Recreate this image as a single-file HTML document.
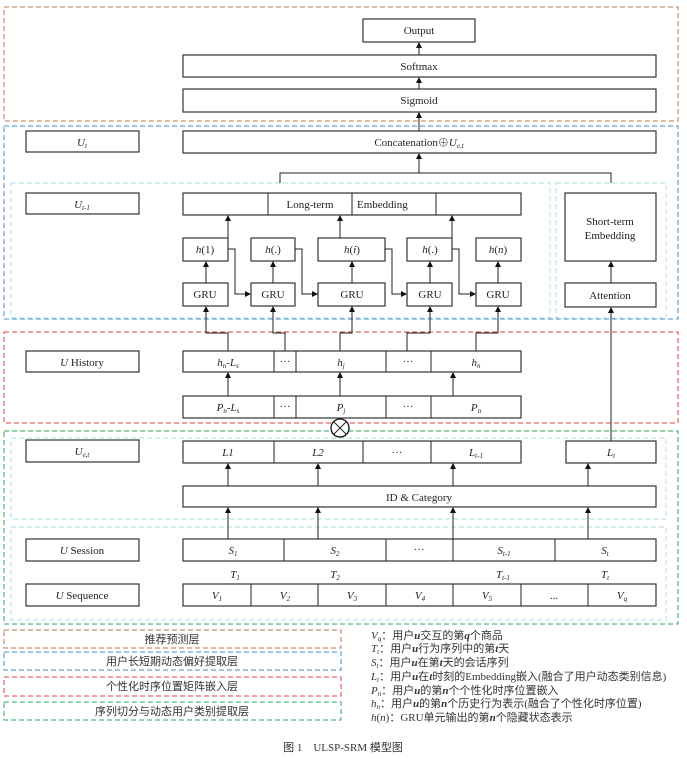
<!DOCTYPE html>
<html><head><meta charset="utf-8"><style>
html,body{margin:0;padding:0;background:#fff;}
svg{display:block;}
text{font-family:"Liberation Serif","Noto Serif CJK SC",serif;font-size:11px;fill:#222;}
.b{fill:#fff;stroke:#333;stroke-width:1.2;}
.l{stroke:#222;stroke-width:1;fill:none;}
.cn{font-family:"Liberation Serif","Noto Sans CJK SC",serif;font-size:11px;fill:#333;}
</style></head><body>
<svg width="687" height="759" viewBox="0 0 687 759" xmlns="http://www.w3.org/2000/svg">
<defs><marker id="a" markerWidth="6" markerHeight="6" refX="5" refY="3" orient="auto" markerUnits="userSpaceOnUse"><path d="M0,0 L6,3 L0,6 z" fill="#111"/></marker></defs>
<!-- group boxes -->
<rect x="4" y="7" width="674" height="114" fill="none" stroke="#b87a48" stroke-width="1" stroke-dasharray="5,3"/>
<rect x="4" y="126" width="674" height="193" fill="none" stroke="#3d8fd0" stroke-width="1" stroke-dasharray="5,3"/>
<rect x="11" y="183" width="539" height="135" fill="none" stroke="#a8dde6" stroke-width="1" stroke-dasharray="5,3"/>
<rect x="556" y="183" width="110" height="135" fill="none" stroke="#a8dde6" stroke-width="1" stroke-dasharray="5,3"/>
<rect x="4" y="332" width="674" height="91" fill="none" stroke="#e23c3c" stroke-width="1" stroke-dasharray="5,3"/>
<rect x="4" y="431" width="674" height="193" fill="none" stroke="#2aa857" stroke-width="1" stroke-dasharray="5,3"/>
<rect x="11" y="438" width="655" height="81" fill="none" stroke="#a8dde6" stroke-width="1" stroke-dasharray="5,3"/>
<rect x="11" y="527" width="655" height="93" fill="none" stroke="#a8dde6" stroke-width="1" stroke-dasharray="5,3"/>

<!-- top -->
<rect class="b" x="363" y="19" width="112" height="23"/><text x="419" y="34" text-anchor="middle">Output</text>
<rect class="b" x="183" y="55" width="473" height="22"/><text x="419" y="70" text-anchor="middle">Softmax</text>
<rect class="b" x="183" y="89" width="473" height="23"/><text x="419" y="104" text-anchor="middle">Sigmoid</text>
<line class="l" x1="419" y1="55" x2="419" y2="43" marker-end="url(#a)"/>
<line class="l" x1="419" y1="89" x2="419" y2="78" marker-end="url(#a)"/>
<line class="l" x1="419" y1="131" x2="419" y2="113" marker-end="url(#a)"/>
<rect class="b" x="26" y="131" width="113" height="21"/><text x="82" y="146" text-anchor="middle" font-style="italic">U<tspan font-size="7" dy="2">t</tspan></text>
<rect class="b" x="183" y="131" width="473" height="22"/><text x="419" y="146" text-anchor="middle">Concatenation⊕<tspan font-style="italic">U</tspan><tspan font-style="italic" font-size="7" dy="2">e,t</tspan></text>
<polyline class="l" points="280,183 280,173 611,173 611,183"/>
<line class="l" x1="419" y1="173" x2="419" y2="154" marker-end="url(#a)"/>

<!-- long term -->
<rect class="b" x="26" y="193" width="113" height="21"/><text x="82" y="208" text-anchor="middle" font-style="italic">U<tspan font-size="7" dy="2">t-1</tspan></text>
<rect class="b" x="183" y="193" width="338" height="22"/>
<line class="l" x1="268" y1="193" x2="268" y2="215"/><line class="l" x1="352" y1="193" x2="352" y2="215"/><line class="l" x1="436" y1="193" x2="436" y2="215"/>
<text x="310" y="208" text-anchor="middle">Long-term</text><text x="357" y="208">Embedding</text>
<rect class="b" x="565" y="193" width="91" height="68"/><text x="610" y="225" text-anchor="middle">Short-term</text><text x="610" y="239" text-anchor="middle">Embedding</text>
<rect class="b" x="565" y="283" width="91" height="24"/><text x="610" y="299" text-anchor="middle">Attention</text>
<line class="l" x1="611" y1="283" x2="611" y2="262" marker-end="url(#a)"/>
<line class="l" x1="611" y1="441" x2="611" y2="308" marker-end="url(#a)"/>

<!-- h boxes -->
<rect class="b" x="183" y="238" width="45" height="23"/><text x="205" y="253" text-anchor="middle"><tspan font-style="italic">h</tspan>(1)</text>
<rect class="b" x="251" y="238" width="44" height="23"/><text x="273" y="253" text-anchor="middle"><tspan font-style="italic">h</tspan>(.)</text>
<rect class="b" x="318" y="238" width="67" height="23"/><text x="352" y="253" text-anchor="middle"><tspan font-style="italic">h</tspan>(<tspan font-style="italic">i</tspan>)</text>
<rect class="b" x="407" y="238" width="45" height="23"/><text x="430" y="253" text-anchor="middle"><tspan font-style="italic">h</tspan>(.)</text>
<rect class="b" x="476" y="238" width="45" height="23"/><text x="498" y="253" text-anchor="middle"><tspan font-style="italic">h</tspan>(<tspan font-style="italic">n</tspan>)</text>
<line class="l" x1="228" y1="238" x2="228" y2="216" marker-end="url(#a)"/>
<line class="l" x1="340" y1="238" x2="340" y2="216" marker-end="url(#a)"/>
<line class="l" x1="452" y1="238" x2="452" y2="216" marker-end="url(#a)"/>
<!-- GRU -->
<rect class="b" x="183" y="283" width="45" height="23"/><text x="205" y="298" text-anchor="middle">GRU</text>
<rect class="b" x="251" y="283" width="44" height="23"/><text x="273" y="298" text-anchor="middle">GRU</text>
<rect class="b" x="318" y="283" width="67" height="23"/><text x="352" y="298" text-anchor="middle">GRU</text>
<rect class="b" x="407" y="283" width="45" height="23"/><text x="430" y="298" text-anchor="middle">GRU</text>
<rect class="b" x="476" y="283" width="45" height="23"/><text x="498" y="298" text-anchor="middle">GRU</text>
<line class="l" x1="206" y1="283" x2="206" y2="262" marker-end="url(#a)"/>
<line class="l" x1="273" y1="283" x2="273" y2="262" marker-end="url(#a)"/>
<line class="l" x1="352" y1="283" x2="352" y2="262" marker-end="url(#a)"/>
<line class="l" x1="430" y1="283" x2="430" y2="262" marker-end="url(#a)"/>
<line class="l" x1="498" y1="283" x2="498" y2="262" marker-end="url(#a)"/>
<polyline class="l" points="228,249 235,249 235,294 250,294" marker-end="url(#a)"/>
<polyline class="l" points="295,249 302,249 302,294 317,294" marker-end="url(#a)"/>
<polyline class="l" points="385,249 392,249 392,294 406,294" marker-end="url(#a)"/>
<polyline class="l" points="452,249 459,249 459,294 475,294" marker-end="url(#a)"/>
<!-- history to GRU -->
<polyline class="l" points="228,351 228,333 206,333 206,307" marker-end="url(#a)"/>
<polyline class="l" points="285,351 285,333 273,333 273,307" marker-end="url(#a)"/>
<polyline class="l" points="340,351 340,333 352,333 352,307" marker-end="url(#a)"/>
<polyline class="l" points="407,351 407,333 430,333 430,307" marker-end="url(#a)"/>
<polyline class="l" points="476,351 476,333 498,333 498,307" marker-end="url(#a)"/>

<!-- history -->
<rect class="b" x="26" y="351" width="113" height="21"/><text x="82" y="366" text-anchor="middle"><tspan font-style="italic">U</tspan> History</text>
<rect class="b" x="183" y="351" width="338" height="21"/>
<line class="l" x1="274" y1="351" x2="274" y2="372"/><line class="l" x1="296" y1="351" x2="296" y2="372"/><line class="l" x1="386" y1="351" x2="386" y2="372"/><line class="l" x1="431" y1="351" x2="431" y2="372"/>
<text x="228" y="366" text-anchor="middle" font-style="italic">h<tspan font-size="7" dy="2">n</tspan><tspan dy="-2">-L</tspan><tspan font-size="7" dy="2">s</tspan></text>
<text x="285" y="365" text-anchor="middle">···</text>
<text x="341" y="366" text-anchor="middle" font-style="italic">h<tspan font-size="7" dy="2">j</tspan></text>
<text x="408" y="365" text-anchor="middle">···</text>
<text x="476" y="366" text-anchor="middle" font-style="italic">h<tspan font-size="7" dy="2">n</tspan></text>
<rect class="b" x="183" y="396" width="338" height="22"/>
<line class="l" x1="274" y1="396" x2="274" y2="418"/><line class="l" x1="296" y1="396" x2="296" y2="418"/><line class="l" x1="386" y1="396" x2="386" y2="418"/><line class="l" x1="431" y1="396" x2="431" y2="418"/>
<text x="228" y="411" text-anchor="middle" font-style="italic">P<tspan font-size="7" dy="2">n</tspan><tspan dy="-2">-L</tspan><tspan font-size="7" dy="2">s</tspan></text>
<text x="285" y="410" text-anchor="middle">···</text>
<text x="341" y="411" text-anchor="middle" font-style="italic">P<tspan font-size="7" dy="2">j</tspan></text>
<text x="408" y="410" text-anchor="middle">···</text>
<text x="476" y="411" text-anchor="middle" font-style="italic">P<tspan font-size="7" dy="2">n</tspan></text>
<line class="l" x1="228" y1="396" x2="228" y2="373" marker-end="url(#a)"/>
<line class="l" x1="340" y1="396" x2="340" y2="373" marker-end="url(#a)"/>
<line class="l" x1="453" y1="396" x2="453" y2="373" marker-end="url(#a)"/>
<circle cx="340" cy="428" r="9" fill="#fff" stroke="#111" stroke-width="1.3"/>
<line class="l" x1="334" y1="422" x2="346" y2="434" stroke-width="1.3"/><line class="l" x1="346" y1="422" x2="334" y2="434" stroke-width="1.3"/>

<!-- L row -->
<rect class="b" x="26" y="440" width="113" height="22"/><text x="82" y="455" text-anchor="middle" font-style="italic">U<tspan font-size="7" dy="2">e,t</tspan></text>
<rect class="b" x="183" y="441" width="338" height="22"/>
<line class="l" x1="274" y1="441" x2="274" y2="463"/><line class="l" x1="363" y1="441" x2="363" y2="463"/><line class="l" x1="431" y1="441" x2="431" y2="463"/>
<text x="228" y="456" text-anchor="middle" font-style="italic">L1</text>
<text x="318" y="456" text-anchor="middle" font-style="italic">L2</text>
<text x="397" y="456" text-anchor="middle">···</text>
<text x="476" y="456" text-anchor="middle" font-style="italic">L<tspan font-size="7" dy="2">t-1</tspan></text>
<rect class="b" x="566" y="441" width="90" height="22"/><text x="611" y="456" text-anchor="middle" font-style="italic">L<tspan font-size="7" dy="2">t</tspan></text>
<rect class="b" x="183" y="486" width="473" height="21"/><text x="419" y="501" text-anchor="middle">ID &amp; Category</text>
<line class="l" x1="228" y1="486" x2="228" y2="464" marker-end="url(#a)"/>
<line class="l" x1="318" y1="486" x2="318" y2="464" marker-end="url(#a)"/>
<line class="l" x1="453" y1="486" x2="453" y2="464" marker-end="url(#a)"/>
<line class="l" x1="588" y1="486" x2="588" y2="464" marker-end="url(#a)"/>
<line class="l" x1="228" y1="539" x2="228" y2="508" marker-end="url(#a)"/>
<line class="l" x1="318" y1="539" x2="318" y2="508" marker-end="url(#a)"/>
<line class="l" x1="453" y1="539" x2="453" y2="508" marker-end="url(#a)"/>
<line class="l" x1="588" y1="539" x2="588" y2="508" marker-end="url(#a)"/>

<!-- session -->
<rect class="b" x="26" y="539" width="113" height="22"/><text x="82" y="554" text-anchor="middle"><tspan font-style="italic">U</tspan> Session</text>
<rect class="b" x="183" y="539" width="473" height="22"/>
<line class="l" x1="284" y1="539" x2="284" y2="561"/><line class="l" x1="386" y1="539" x2="386" y2="561"/><line class="l" x1="453" y1="539" x2="453" y2="561"/><line class="l" x1="555" y1="539" x2="555" y2="561"/>
<text x="233" y="554" text-anchor="middle" font-style="italic">S<tspan font-size="7" dy="2">1</tspan></text>
<text x="335" y="554" text-anchor="middle" font-style="italic">S<tspan font-size="7" dy="2">2</tspan></text>
<text x="419" y="553" text-anchor="middle">···</text>
<text x="504" y="554" text-anchor="middle" font-style="italic">S<tspan font-size="7" dy="2">t-1</tspan></text>
<text x="605" y="554" text-anchor="middle" font-style="italic">S<tspan font-size="7" dy="2">t</tspan></text>
<text x="235" y="578" text-anchor="middle" font-style="italic">T<tspan font-size="7" dy="2">1</tspan></text>
<text x="335" y="578" text-anchor="middle" font-style="italic">T<tspan font-size="7" dy="2">2</tspan></text>
<text x="503" y="578" text-anchor="middle" font-style="italic">T<tspan font-size="7" dy="2">t-1</tspan></text>
<text x="605" y="578" text-anchor="middle" font-style="italic">T<tspan font-size="7" dy="2">t</tspan></text>

<!-- sequence -->
<rect class="b" x="26" y="584" width="113" height="22"/><text x="82" y="599" text-anchor="middle"><tspan font-style="italic">U</tspan> Sequence</text>
<rect class="b" x="183" y="584" width="473" height="22"/>
<line class="l" x1="251" y1="584" x2="251" y2="606"/><line class="l" x1="318" y1="584" x2="318" y2="606"/><line class="l" x1="386" y1="584" x2="386" y2="606"/><line class="l" x1="453" y1="584" x2="453" y2="606"/><line class="l" x1="521" y1="584" x2="521" y2="606"/><line class="l" x1="588" y1="584" x2="588" y2="606"/>
<text x="217" y="599" text-anchor="middle" font-style="italic">V<tspan font-size="7" dy="2">1</tspan></text>
<text x="285" y="599" text-anchor="middle" font-style="italic">V<tspan font-size="7" dy="2">2</tspan></text>
<text x="352" y="599" text-anchor="middle" font-style="italic">V<tspan font-size="7" dy="2">3</tspan></text>
<text x="420" y="599" text-anchor="middle" font-style="italic">V<tspan font-size="7" dy="2">4</tspan></text>
<text x="487" y="599" text-anchor="middle" font-style="italic">V<tspan font-size="7" dy="2">5</tspan></text>
<text x="554" y="599" text-anchor="middle">...</text>
<text x="622" y="599" text-anchor="middle" font-style="italic">V<tspan font-size="7" dy="2">q</tspan></text>

<!-- legend -->
<rect x="4" y="630" width="337" height="18" fill="none" stroke="#b87a48" stroke-dasharray="5,3"/>
<text class="cn" x="172" y="643" text-anchor="middle">推荐预测层</text>
<rect x="4" y="652" width="337" height="18" fill="none" stroke="#3d8fd0" stroke-dasharray="5,3"/>
<text class="cn" x="172" y="665" text-anchor="middle">用户长短期动态偏好提取层</text>
<rect x="4" y="677" width="337" height="19" fill="none" stroke="#e23c3c" stroke-dasharray="5,3"/>
<text class="cn" x="172" y="690" text-anchor="middle">个性化时序位置矩阵嵌入层</text>
<rect x="4" y="702" width="337" height="18" fill="none" stroke="#2aa857" stroke-dasharray="5,3"/>
<text class="cn" x="172" y="715" text-anchor="middle">序列切分与动态用户类别提取层</text>

<g class="cn">
<text class="cn" x="371" y="639"><tspan font-style="italic">V</tspan><tspan font-size="7" dy="2" font-style="italic">q</tspan><tspan dy="-2">：用户</tspan><tspan font-weight="bold" font-style="italic">u</tspan>交互的第<tspan font-weight="bold" font-style="italic">q</tspan>个商品</text>
<text class="cn" x="371" y="652"><tspan font-style="italic">T</tspan><tspan font-size="7" dy="2" font-style="italic">t</tspan><tspan dy="-2">：用户</tspan><tspan font-weight="bold" font-style="italic">u</tspan>行为序列中的第<tspan font-weight="bold" font-style="italic">t</tspan>天</text>
<text class="cn" x="371" y="666"><tspan font-style="italic">S</tspan><tspan font-size="7" dy="2" font-style="italic">t</tspan><tspan dy="-2">：用户</tspan><tspan font-weight="bold" font-style="italic">u</tspan>在第<tspan font-weight="bold" font-style="italic">t</tspan>天的会话序列</text>
<text class="cn" x="371" y="680"><tspan font-style="italic">L</tspan><tspan font-size="7" dy="2" font-style="italic">t</tspan><tspan dy="-2">：用户</tspan><tspan font-weight="bold" font-style="italic">u</tspan>在<tspan font-weight="bold" font-style="italic">t</tspan>时刻的Embedding嵌入(融合了用户动态类别信息)</text>
<text class="cn" x="371" y="694"><tspan font-style="italic">P</tspan><tspan font-size="7" dy="2" font-style="italic">n</tspan><tspan dy="-2">：用户</tspan><tspan font-weight="bold" font-style="italic">u</tspan>的第<tspan font-weight="bold" font-style="italic">n</tspan>个个性化时序位置嵌入</text>
<text class="cn" x="371" y="707"><tspan font-style="italic">h</tspan><tspan font-size="7" dy="2" font-style="italic">n</tspan><tspan dy="-2">：用户</tspan><tspan font-weight="bold" font-style="italic">u</tspan>的第<tspan font-weight="bold" font-style="italic">n</tspan>个历史行为表示(融合了个性化时序位置)</text>
<text class="cn" x="371" y="721"><tspan font-style="italic">h</tspan>(<tspan font-style="italic">n</tspan>)：GRU单元输出的第<tspan font-weight="bold" font-style="italic">n</tspan>个隐藏状态表示</text>
</g>
<text class="cn" x="343" y="751" text-anchor="middle" font-size="12">图 1　ULSP-SRM 模型图</text>
</svg>
</body></html>
